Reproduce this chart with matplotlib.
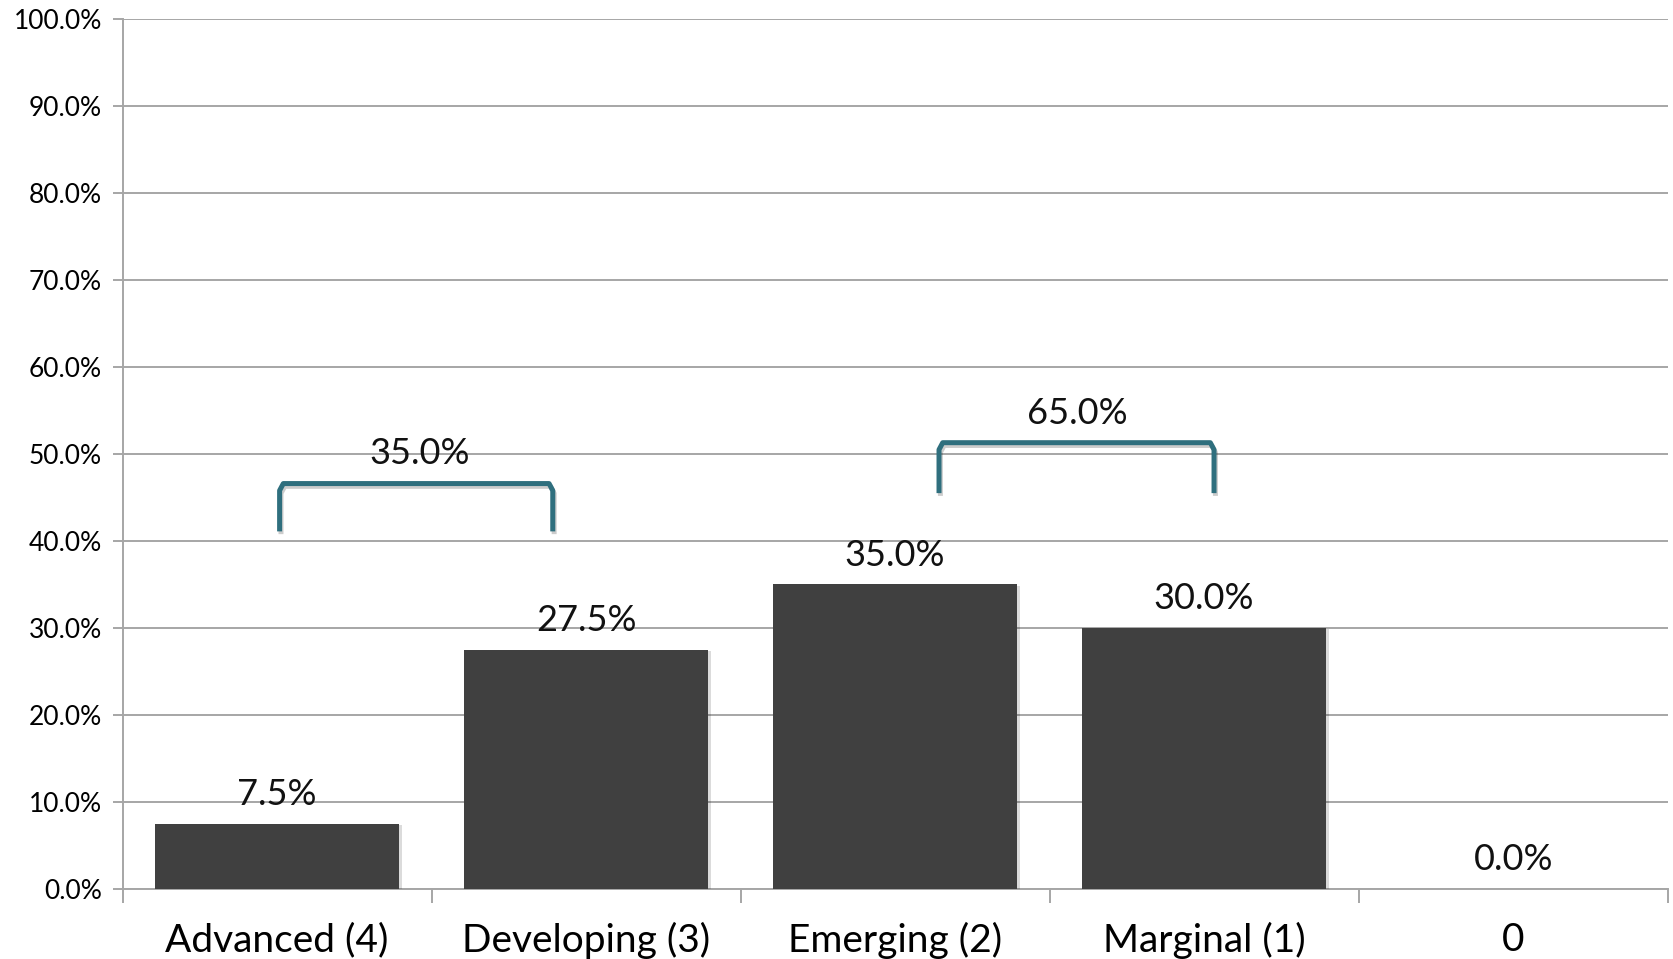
import matplotlib
matplotlib.use("Agg")
import matplotlib.pyplot as plt
import matplotlib.patheffects as pe
from matplotlib.ticker import FuncFormatter, FixedLocator

# ------------------------------------
# Data
# ------------------------------------

categories = ["Advanced (4)", "Developing (3)", "Emerging (2)", "Marginal (1)", "0"]
shares = [7.5, 27.5, 35.0, 30.0, 0.0]

# grouped totals shown above the brackets
upper_group = [0, 1]
lower_group = [2, 3]

plt.rcParams["font.family"] = ["Lato", "DejaVu Sans"]

BAR = "#404040"
GRID = "#a6a6a6"
TEAL = "#2f6f7e"

fig = plt.figure(figsize=(16.73, 9.59), dpi=100)
ax = fig.add_axes([0.0733, 0.0732, 0.9235, 0.9068])

x = list(range(len(categories)))
ax.bar(
    x, shares, width=0.79, color=BAR, zorder=3,
    path_effects=[pe.SimplePatchShadow(offset=(2, -1), alpha=0.15), pe.Normal()],
)

for xi, v in zip(x, shares):
    ax.annotate(
        f"{v:.1f}%", (xi, v), xytext=(0, 9), textcoords="offset points",
        ha="center", va="bottom", fontsize=26, color="#111111", zorder=5,
    )

ax.set_xlim(-0.5, len(categories) - 0.5)
ax.set_ylim(0, 100)

# y axis
ax.yaxis.set_major_locator(FixedLocator(range(0, 101, 10)))
ax.yaxis.set_major_formatter(FuncFormatter(lambda v, _: f"{v:.1f}%"))
ax.tick_params(axis="y", length=7, width=1.4, color=GRID, labelsize=19, pad=8)
ax.grid(axis="y", color=GRID, linewidth=1.4, zorder=0)

# x axis: ticks between categories, labels at centres
ax.set_xticks([i - 0.5 for i in range(len(categories) + 1)])
ax.set_xticklabels([])
ax.set_xticks(x, minor=True)
ax.set_xticklabels(categories, minor=True, fontsize=28)
ax.tick_params(axis="x", which="major", length=10, width=1.4, color=GRID, direction="out")
ax.tick_params(axis="x", which="minor", length=0, pad=24)

for side in ["top", "right"]:
    ax.spines[side].set_visible(False)
for side in ["left", "bottom"]:
    ax.spines[side].set_color(GRID)
    ax.spines[side].set_linewidth(1.4)


# ------------------------------------
# Brackets
# ------------------------------------

def bracket(x0, x1, y_low, y_top, label, label_xy):
    r = 0.012
    xs = [x0, x0, x0 + r, x1 - r, x1, x1]
    ys = [y_low, y_top - 0.8, y_top, y_top, y_top - 0.8, y_low]
    ax.plot(
        xs, ys, color=TEAL, linewidth=3.6, solid_joinstyle="round",
        solid_capstyle="butt", zorder=4,
        path_effects=[pe.SimpleLineShadow(offset=(1, -2), alpha=0.2), pe.Normal()],
    )
    ax.text(label_xy[0], label_xy[1], label, ha="center", va="center",
            fontsize=26, color="#111111", zorder=5)


upper_total = sum(shares[i] for i in upper_group)
lower_total = sum(shares[i] for i in lower_group)

bracket(0.008, 0.892, 41.1, 46.6, f"{upper_total:.1f}%", (0.46, 50.0))
bracket(2.142, 3.032, 45.5, 51.3, f"{lower_total:.1f}%", (2.59, 54.6))

fig.savefig("out.png", dpi=100)
